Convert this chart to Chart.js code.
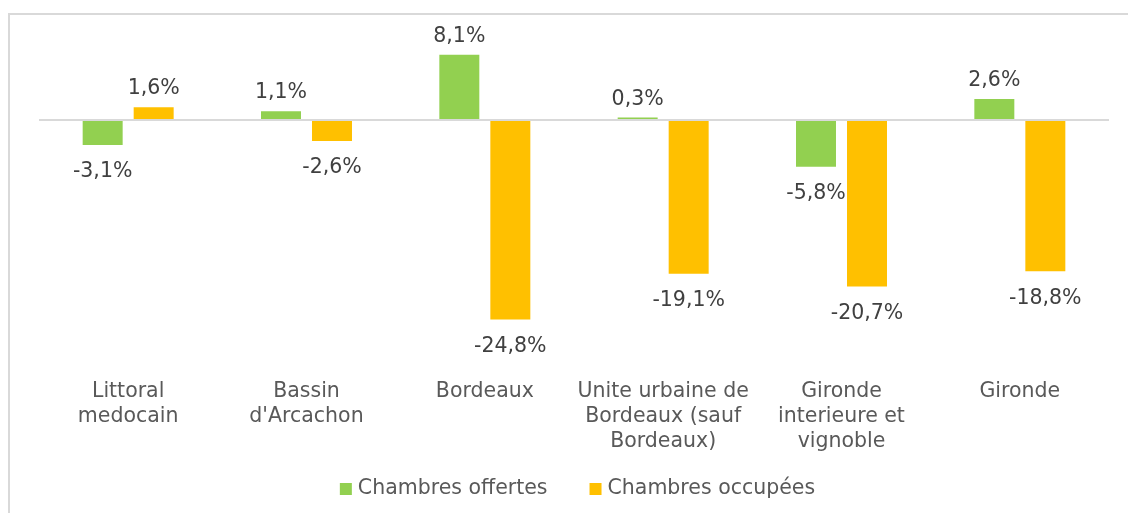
<!DOCTYPE html>
<html>
<head>
<meta charset="utf-8">
<script src="https://cdn.jsdelivr.net/npm/chart.js@4.4.1/dist/chart.umd.min.js"></script>
<style>
  html, body { margin: 0; padding: 0; background: #ffffff; overflow: hidden; }
  #frame { position: absolute; left: 8px; top: 13px; width: 1300px; height: 700px; border: 2px solid #d9d9d9; box-sizing: border-box; }
  #c { position: absolute; left: 0; top: 0; }
</style>
</head>
<body>
<div id="frame"></div>
<canvas id="c" width="1128" height="513"></canvas>
<script>
const categories = [
  ["Littoral", "medocain"],
  ["Bassin", "d'Arcachon"],
  ["Bordeaux"],
  ["Unite urbaine de", "Bordeaux (sauf", "Bordeaux)"],
  ["Gironde", "interieure et", "vignoble"],
  ["Gironde"]
];
const seriesNames = ["Chambres offertes", "Chambres occupées"];
const chambresOffertes = [-3.1, 1.1, 8.1, 0.3, -5.8, 2.6];
const chambresOccupees = [1.6, -2.6, -24.8, -19.1, -20.7, -18.8];
const seriesColors = ["#92D050", "#FFC000"];

const FONT = '"DejaVu Sans", Verdana, sans-serif';
const FS = 20.5;

const valueLabels = {
  id: 'valueLabels',
  afterDatasetsDraw(chart) {
    const ctx = chart.ctx;
    ctx.save();
    ctx.font = FS + 'px ' + FONT;
    ctx.fillStyle = '#404040';
    ctx.textAlign = 'center';
    ctx.textBaseline = 'alphabetic';
    chart.data.datasets.forEach((ds, di) => {
      const meta = chart.getDatasetMeta(di);
      meta.data.forEach((bar, i) => {
        const v = ds.data[i];
        const txt = v.toFixed(1).replace('.', ',') + '%';
        const y = v >= 0 ? bar.y - 13 : bar.y + 32.5;
        ctx.fillText(txt, bar.x, y);
      });
    });
    ctx.restore();
  }
};

// Legend drawn from the datasets' own labels and colours
const bottomLegend = {
  id: 'bottomLegend',
  afterDraw(chart) {
    const ctx = chart.ctx;
    const box = 12, gap = 6, spacing = 42, centerX = 577.5, midY = 489;
    ctx.save();
    ctx.font = FS + 'px ' + FONT;
    ctx.textBaseline = 'middle';
    ctx.textAlign = 'left';
    const items = chart.data.datasets.map(ds => ({ text: ds.label, color: ds.backgroundColor, w: ctx.measureText(ds.label).width }));
    let total = 0;
    items.forEach((it, i) => { total += box + gap + it.w + (i < items.length - 1 ? spacing : 0); });
    let x = centerX - total / 2;
    items.forEach(it => {
      ctx.fillStyle = it.color;
      ctx.fillRect(x, midY - box / 2, box, box);
      ctx.fillStyle = '#595959';
      ctx.fillText(it.text, x + box + gap, midY);
      x += box + gap + it.w + spacing;
    });
    ctx.restore();
  }
};

new Chart(document.getElementById('c'), {
  type: 'bar',
  data: {
    labels: categories,
    datasets: [
      { label: seriesNames[0], data: chambresOffertes, backgroundColor: seriesColors[0], borderWidth: 0 },
      { label: seriesNames[1], data: chambresOccupees, backgroundColor: seriesColors[1], borderWidth: 0 }
    ]
  },
  options: {
    responsive: false,
    animation: false,
    devicePixelRatio: 1,
    datasets: { bar: { categoryPercentage: 0.572, barPercentage: 0.784 } },
    layout: { padding: { left: 39, right: 19, top: 31, bottom: 43 } },
    plugins: {
      tooltip: { enabled: false },
      legend: { display: false }
    },
    scales: {
      x: {
        grid: { display: false, drawTicks: false },
        border: { display: false },
        ticks: {
          color: '#595959',
          padding: 9.5,
          maxRotation: 0,
          autoSkip: false,
          font: { family: FONT, size: FS, lineHeight: 25 / FS }
        },
        afterFit: (scale) => { scale.height = 100; }
      },
      y: {
        min: -31.06,
        max: 11.06,
        grid: {
          drawTicks: false,
          lineWidth: 2,
          color: (c) => (c.tick && c.tick.value === 0 ? '#d9d9d9' : 'rgba(0,0,0,0)')
        },
        border: { display: false },
        ticks: { display: false },
        afterBuildTicks: (scale) => { scale.ticks = [{ value: 0 }]; }
      }
    }
  },
  plugins: [valueLabels, bottomLegend]
});
</script>
</body>
</html>
